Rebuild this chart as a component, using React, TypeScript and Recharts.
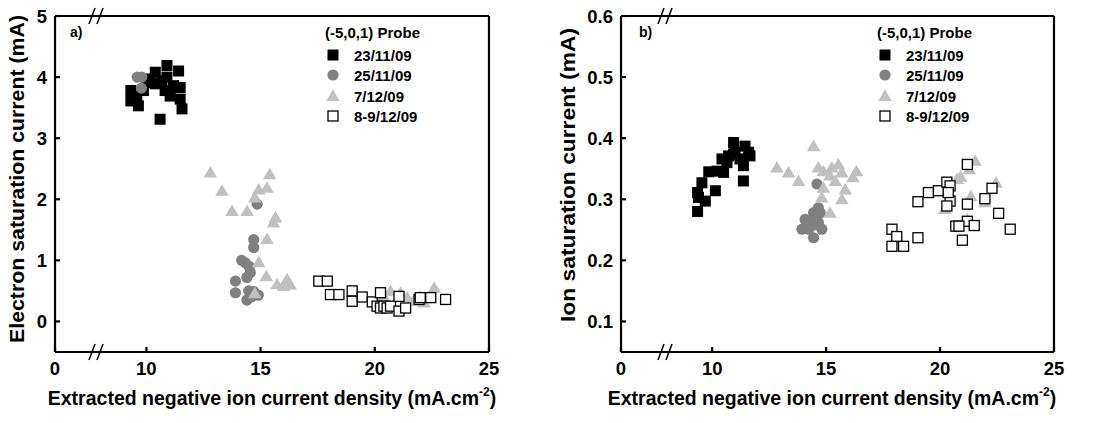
import React from "react";
import {
  ScatterChart,
  Scatter,
  XAxis,
  YAxis,
  Customized,
} from "recharts";

// x values are plotted on a broken axis: the left edge (6) is labelled "0"
const xMajor = [6, 10, 15, 20, 25];
const xMinor = [7.15, 12.5, 17.5, 22.5];

const eYMajor = [0, 1, 2, 3, 4, 5];
const eYMinor = [0.5, 1.5, 2.5, 3.5, 4.5];
const iYMajor = [0.1, 0.2, 0.3, 0.4, 0.5, 0.6];
const iYMinor = [0.15, 0.25, 0.35, 0.45, 0.55];

const seriesNames = ["23/11/09", "25/11/09", "7/12/09", "8-9/12/09"];

// panel a) electron saturation current
const elec2311: [number, number][] = [
  [9.32, 3.78], [9.32, 3.61], [9.65, 3.53], [9.58, 3.69], [9.87, 3.78],
  [10.02, 3.97], [10.39, 4.08], [10.39, 3.89], [10.6, 3.31], [10.9, 4.19],
  [10.9, 4.0], [10.82, 3.78], [11.19, 3.86], [11.41, 4.1], [11.48, 3.83],
  [11.48, 3.64], [11.56, 3.48], [11.04, 3.69], [10.68, 3.94], [10.17, 3.91],
];
const elec2511: [number, number][] = [
  [9.6, 4.0], [9.8, 4.0], [9.78, 3.82], [14.85, 1.92], [14.7, 1.34],
  [14.7, 1.21], [14.33, 0.96], [14.5, 0.9], [14.55, 0.8], [14.4, 0.72],
  [14.17, 1.0], [13.9, 0.66], [13.9, 0.47], [14.4, 0.35], [14.48, 0.5],
  [14.7, 0.49], [14.9, 0.43], [14.6, 0.4],
];
const elec0712: [number, number][] = [
  [12.8, 2.44], [13.31, 2.14], [13.75, 1.81], [14.41, 1.81], [14.75, 2.03],
  [14.92, 2.16], [15.28, 2.19], [15.4, 2.41], [15.65, 1.7], [15.56, 1.62],
  [15.28, 1.35], [14.92, 0.97], [15.25, 0.74], [15.72, 0.61], [16.0, 0.58],
  [16.16, 0.69], [16.3, 0.6], [14.75, 0.46], [20.4, 0.41], [20.69, 0.5],
  [21.13, 0.47], [21.42, 0.39], [21.7, 0.34], [21.99, 0.41], [22.15, 0.31],
  [22.6, 0.55],
];
const elec0812: [number, number][] = [
  [17.55, 0.66], [17.92, 0.66], [18.06, 0.44], [18.43, 0.44], [19.01, 0.5],
  [19.01, 0.33], [19.45, 0.4], [19.89, 0.32], [20.1, 0.25], [20.25, 0.47],
  [20.25, 0.22], [20.4, 0.25], [20.54, 0.22], [20.69, 0.25], [21.06, 0.41],
  [21.06, 0.17], [21.35, 0.22], [21.94, 0.36], [21.99, 0.39], [22.45, 0.39],
  [23.1, 0.36],
];

// panel b) ion saturation current
const ion2311: [number, number][] = [
  [9.36, 0.28], [9.36, 0.311], [9.55, 0.327], [9.7, 0.297], [9.85, 0.345],
  [10.14, 0.314], [10.21, 0.346], [10.5, 0.344], [10.43, 0.366], [10.72, 0.371],
  [10.94, 0.393], [11.0, 0.377], [11.22, 0.366], [11.37, 0.355], [11.37, 0.33],
  [11.6, 0.377], [11.66, 0.371], [11.44, 0.387], [10.65, 0.36], [10.94, 0.374],
  [9.4, 0.303],
];
const ion2511: [number, number][] = [
  [14.6, 0.325], [14.45, 0.278], [14.08, 0.267], [13.94, 0.251], [14.45, 0.237],
  [14.37, 0.256], [14.66, 0.262], [14.74, 0.278], [14.52, 0.267], [14.23, 0.251],
  [14.81, 0.251], [14.66, 0.286],
];
const ion0712: [number, number][] = [
  [12.84, 0.352], [13.35, 0.344], [13.79, 0.33], [14.45, 0.387], [14.66, 0.352],
  [14.88, 0.346], [15.25, 0.352], [15.54, 0.357], [15.69, 0.344], [15.4, 0.33],
  [15.84, 0.316], [15.69, 0.3], [16.18, 0.336], [16.33, 0.346], [14.81, 0.303],
  [15.17, 0.278], [14.88, 0.319], [15.17, 0.339], [21.54, 0.363], [20.75, 0.333],
  [21.28, 0.349], [21.35, 0.305], [20.21, 0.284], [22.46, 0.327], [21.97, 0.295],
  [21.2, 0.267], [20.9, 0.337],
];
const ion0812: [number, number][] = [
  [17.89, 0.251], [18.1, 0.239], [17.89, 0.223], [18.4, 0.223], [19.03, 0.237],
  [19.03, 0.296], [19.49, 0.311], [19.93, 0.314], [20.3, 0.328], [20.44, 0.322],
  [20.44, 0.297], [20.3, 0.289], [20.36, 0.311], [21.2, 0.357], [21.2, 0.292],
  [21.2, 0.264], [20.98, 0.233], [20.69, 0.256], [20.83, 0.256], [21.5, 0.257],
  [21.97, 0.301], [22.28, 0.318], [22.57, 0.277], [23.08, 0.251],
];

const FONT = "'Liberation Sans', Arial, Helvetica, sans-serif";
const tickStyle = { fill: "#000", fontSize: 18.5, fontWeight: 700, fontFamily: FONT };
const lineStyle = { stroke: "#000", strokeWidth: 2.2 };
const THIN = 0.01; // axes with zero size are skipped by recharts

const toPts = (arr: [number, number][]) => arr.map(([x, y]) => ({ x, y }));

const BlackSquare = (p: any) => (
  <rect x={p.cx - 5.5} y={p.cy - 5.5} width={11} height={11} fill="#000" />
);
const GreyCircle = (p: any) => <circle cx={p.cx} cy={p.cy} r={5.6} fill="#808080" />;
const LightTriangle = (p: any) => (
  <polygon
    points={`${p.cx},${p.cy - 6.5} ${p.cx - 6.8},${p.cy + 5} ${p.cx + 6.8},${p.cy + 5}`}
    fill="#c0c0c0"
  />
);
const OpenSquare = (p: any) => (
  <rect
    x={p.cx - 5}
    y={p.cy - 5}
    width={10}
    height={10}
    fill="#fff"
    stroke="#000"
    strokeWidth={1.3}
  />
);
const shapes = [BlackSquare, GreyCircle, LightTriangle, OpenSquare];

function Decor({ tag, breakX, legendX, yTitle, yTitleX, yTitleY, yTitleLen, xTitleX }: any) {
  const txt = { fontFamily: FONT, fontWeight: 700, fill: "#000" } as const;
  const rows = [55, 75, 96, 116];
  return (
    <g>
      <text x={legendX - 8} y={38} fontSize={15} {...txt}>(-5,0,1) Probe</text>
      {seriesNames.map((n, i) => {
        const S = shapes[i];
        return (
          <g key={n}>
            <S cx={legendX} cy={rows[i]} />
            <text x={legendX + 21} y={rows[i] + 6} fontSize={15} {...txt}>{n}</text>
          </g>
        );
      })}
      <text x={breakX - 26} y={37} fontSize={14} {...txt}>{tag}</text>
      {[16, 352].map((yy) => (
        <g key={yy}>
          <polygon
            points={`${breakX - 6},${yy + 8} ${breakX},${yy - 8} ${breakX + 6},${yy - 8} ${breakX},${yy + 8}`}
            fill="#fff"
          />
          <line x1={breakX - 7} y1={yy + 8} x2={breakX - 1} y2={yy - 8} stroke="#000" strokeWidth={1.6} />
          <line x1={breakX + 1} y1={yy + 8} x2={breakX + 7} y2={yy - 8} stroke="#000" strokeWidth={1.6} />
        </g>
      ))}
      <text
        x={yTitleX}
        y={yTitleY}
        fontSize={19.5}
        textAnchor="middle"
        textLength={yTitleLen}
        lengthAdjust="spacingAndGlyphs"
        transform={`rotate(-90 ${yTitleX} ${yTitleY})`}
        {...txt}
      >
        {yTitle}
      </text>
      <text
        x={xTitleX}
        y={405}
        fontSize={19.5}
        textAnchor="middle"
        {...txt}
      >
        Extracted negative ion current density (mA.cm
        <tspan fontSize={12} dy={-9}>-2</tspan>
        <tspan dy={9}>)</tspan>
      </text>
    </g>
  );
}

function Panel({ data, yDomain, yMajor, yMinor, yFmt, margin, decor }: any) {
  return (
    <ScatterChart width={552} height={423} margin={margin}>
      <XAxis
        xAxisId="b" type="number" dataKey="x" domain={[6, 25]} ticks={xMajor}
        height={THIN} tickSize={-5} tickMargin={15} tick={tickStyle}
        axisLine={lineStyle} tickLine={lineStyle} interval={0}
        tickFormatter={(v: number) => (v === 6 ? "0" : String(v))}
      />
      <XAxis
        xAxisId="bm" type="number" domain={[6, 25]} ticks={xMinor} height={THIN}
        tickSize={-3} tick={false} axisLine={false} tickLine={lineStyle} interval={0}
      />
      <XAxis
        xAxisId="t" orientation="top" type="number" domain={[6, 25]} ticks={xMajor}
        height={THIN} tickSize={-5} tick={false} axisLine={lineStyle} tickLine={lineStyle}
        interval={0}
      />
      <XAxis
        xAxisId="tm" orientation="top" type="number" domain={[6, 25]} ticks={xMinor}
        height={THIN} tickSize={-3} tick={false} axisLine={false} tickLine={lineStyle}
        interval={0}
      />
      <YAxis
        yAxisId="l" type="number" dataKey="y" domain={yDomain} ticks={yMajor}
        width={THIN} tickSize={-5} tickMargin={13} tick={tickStyle} interval={0}
        axisLine={lineStyle} tickLine={lineStyle} tickFormatter={yFmt}
      />
      <YAxis
        yAxisId="lm" type="number" domain={yDomain} ticks={yMinor} width={THIN}
        tickSize={-3} tick={false} axisLine={false} tickLine={lineStyle} interval={0}
      />
      <YAxis
        yAxisId="r" orientation="right" type="number" domain={yDomain} ticks={yMajor}
        width={THIN} tickSize={-5} tick={false} axisLine={lineStyle} tickLine={lineStyle}
        interval={0}
      />
      <YAxis
        yAxisId="rm" orientation="right" type="number" domain={yDomain} ticks={yMinor}
        width={THIN} tickSize={-3} tick={false} axisLine={false} tickLine={lineStyle}
        interval={0}
      />
      {data.map((d: any, i: number) => (
        <Scatter
          key={seriesNames[i]}
          name={seriesNames[i]}
          data={toPts(d)}
          xAxisId="b"
          yAxisId="l"
          shape={shapes[i]}
          isAnimationActive={false}
        />
      ))}
      <Customized component={decor} />
    </ScatterChart>
  );
}

export default function App() {
  return (
    <div
      style={{
        position: "absolute",
        left: 0,
        top: 0,
        width: 1104,
        height: 423,
        background: "#fff",
        display: "flex",
      }}
    >
      <Panel
        data={[elec2311, elec2511, elec0712, elec0812]}
        yDomain={[-0.5, 5]}
        yMajor={eYMajor}
        yMinor={eYMinor}
        yFmt={(v: number) => String(v)}
        margin={{ top: 16, right: 63, bottom: 71, left: 55 }}
        decor={
          <Decor
            tag="a)"
            breakX={96}
            legendX={333}
            yTitle="Electron saturation current (mA)"
            yTitleX={24}
            yTitleY={179}
            yTitleLen={328}
            xTitleX={272}
          />
        }
      />
      <Panel
        data={[ion2311, ion2511, ion0712, ion0812]}
        yDomain={[0.05, 0.6]}
        yMajor={iYMajor}
        yMinor={iYMinor}
        yFmt={(v: number) => v.toFixed(1)}
        margin={{ top: 16, right: 50, bottom: 71, left: 69 }}
        decor={
          <Decor
            tag="b)"
            breakX={113}
            legendX={333}
            yTitle="Ion saturation current (mA)"
            yTitleX={23}
            yTitleY={175}
            yTitleLen={294}
            xTitleX={280}
          />
        }
      />
    </div>
  );
}
